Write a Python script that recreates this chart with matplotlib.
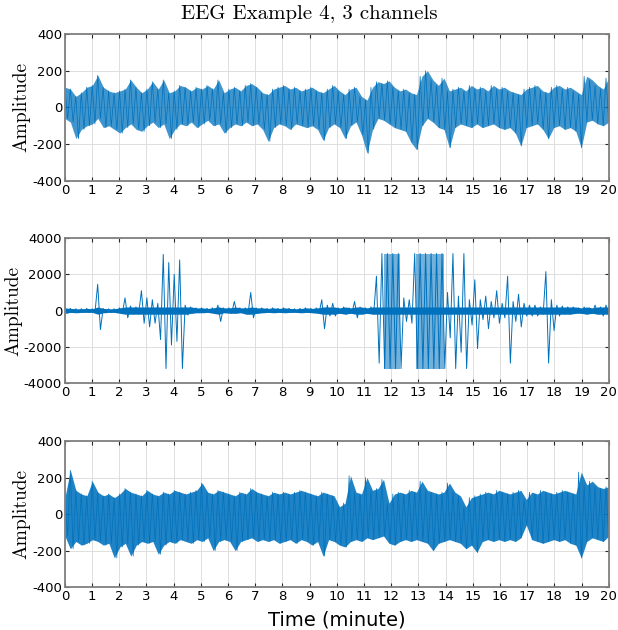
import matplotlib
matplotlib.use('Agg')
import matplotlib.pyplot as plt
import numpy as np

plt.rcParams['font.family'] = 'DejaVu Sans'
plt.rcParams['axes.unicode_minus'] = False

# Signal envelopes: max / min inside each 0.2-minute bin (100 bins)
ch1_hi = [110, 100, 60, 80, 110, 120, 175, 110, 90, 80,
          90, 100, 150, 110, 80, 100, 140, 100, 150, 80,
          90, 120, 110, 90, 110, 100, 120, 100, 150, 80,
          100, 110, 90, 120, 130, 110, 80, 70, 100, 110,
          120, 100, 110, 90, 100, 110, 90, 80, 100, 120,
          90, 70, 100, 110, 60, 40, 110, 140, 130, 145,
          110, 90, 100, 80, 70, 170, 200, 150, 120, 160,
          90, 100, 110, 90, 120, 100, 110, 90, 120, 100,
          110, 90, 80, 70, 100, 110, 120, 90, 80, 110,
          120, 100, 110, 90, 70, 170, 150, 120, 100, 160]
ch1_lo = [-60, -80, -170, -120, -100, -90, -60, -110, -100, -120,
          -140, -110, -90, -120, -130, -100, -80, -110, -90, -170,
          -120, -90, -100, -80, -110, -90, -70, -100, -90, -140,
          -110, -90, -100, -80, -100, -90, -120, -185, -110, -90,
          -100, -120, -90, -100, -110, -100, -120, -180, -110, -90,
          -110, -170, -100, -80, -150, -250, -120, -60, -70, -90,
          -110, -120, -130, -190, -230, -100, -60, -80, -110, -120,
          -220, -110, -90, -100, -110, -90, -110, -100, -90, -110,
          -120, -110, -140, -210, -110, -100, -90, -120, -170, -110,
          -100, -120, -110, -130, -220, -80, -70, -90, -100, -80]

ch2_hi = [150, 120, 100, 100, 120, 100, 1450, 120, 100, 100,
          150, 700, 250, 200, 1100, 700, 600, 400, 3100, 2650,
          2000, 2800, 300, 200, 150, 150, 120, 150, 300, 150,
          150, 500, 150, 150, 1000, 150, 150, 120, 150, 120,
          150, 120, 100, 120, 150, 120, 150, 600, 300, 400,
          150, 200, 150, 500, 200, 150, 200, 1900, 3150, 3150,
          3150, 3150, 700, 600, 3150, 3150, 3150, 3150, 3150, 3150,
          1000, 3150, 800, 3150, 600, 1700, 600, 800, 500, 1100,
          400, 1900, 500, 900, 400, 300, 300, 200, 2150, 600,
          300, 250, 200, 200, 150, 200, 150, 300, 200, 300]
ch2_lo = [-150, -100, -120, -100, -100, -100, -1050, -120, -100, -100,
          -150, -400, -200, -200, -700, -900, -700, -1600, -3200, -1900,
          -1700, -3200, -250, -150, -120, -120, -100, -150, -600, -120,
          -150, -150, -120, -200, -400, -150, -120, -100, -120, -100,
          -120, -100, -100, -120, -100, -120, -150, -1000, -300, -300,
          -150, -200, -150, -400, -200, -150, -200, -2900, -3200, -3200,
          -3200, -3200, -600, -700, -3200, -3200, -3200, -3200, -3200, -3200,
          -1500, -3200, -2300, -3200, -800, -2100, -500, -1000, -400, -700,
          -400, -2900, -600, -900, -300, -300, -300, -200, -2900, -1100,
          -300, -200, -200, -150, -150, -200, -150, -200, -300, -300]

ch3_hi = [90, 240, 130, 110, 100, 180, 120, 100, 110, 90,
          110, 140, 120, 110, 100, 130, 110, 100, 120, 110,
          130, 120, 110, 120, 130, 170, 120, 110, 130, 120,
          110, 100, 120, 110, 140, 120, 110, 100, 120, 110,
          120, 110, 120, 130, 120, 110, 100, 120, 110, 100,
          40, 60, 210, 120, 110, 200, 130, 140, 190, 60,
          110, 120, 110, 130, 120, 180, 130, 120, 110, 120,
          170, 120, 100, 40, 90, 100, 110, 120, 110, 130,
          120, 110, 120, 130, 80, 120, 110, 130, 120, 110,
          120, 130, 120, 110, 230, 160, 180, 150, 140, 150]
ch3_lo = [-120, -190, -150, -170, -160, -140, -150, -170, -160, -240,
          -180, -160, -230, -170, -150, -160, -150, -220, -170, -150,
          -160, -140, -150, -160, -140, -150, -130, -200, -150, -140,
          -150, -200, -150, -140, -130, -150, -140, -150, -140, -160,
          -150, -140, -160, -140, -150, -170, -150, -230, -140, -150,
          -170, -180, -150, -140, -150, -130, -140, -130, -120, -160,
          -170, -150, -140, -150, -140, -150, -160, -200, -160, -150,
          -140, -150, -160, -190, -170, -210, -150, -140, -150, -140,
          -150, -140, -150, -130, -60, -140, -150, -160, -150, -140,
          -150, -140, -160, -170, -240, -150, -130, -140, -150, -120]

# (hi, lo, y-limit, y ticks, band alpha, max height of the solid band)
channels = [(ch1_hi, ch1_lo, 400, [-400, -200, 0, 200, 400], 0.75, None),
            (ch2_hi, ch2_lo, 4000, [-4000, -2000, 0, 2000, 4000], 1.0, 200),
            (ch3_hi, ch3_lo, 400, [-400, -200, 0, 200, 400], 0.88, None)]

fig = plt.figure(figsize=(6.18, 6.30), dpi=100)
boxes = [(0.105, 0.713, 0.880, 0.233),
         (0.105, 0.392, 0.880, 0.230),
         (0.105, 0.068, 0.880, 0.232)]

blue = '#0072BD'
t_bin = np.linspace(0, 20, 100)
t_zig = np.linspace(0, 20, 200)   # each bin drawn as max then min

for (hi, lo, lim, yt, alpha, cap), box in zip(channels, boxes):
    ax = fig.add_axes(box)
    hi = np.array(hi)
    lo = np.array(lo)
    if cap is None:
        ax.fill_between(t_bin, lo, hi, color=blue, alpha=alpha, lw=0)
        lw = 0.5
    else:
        # quiet baseline as a solid band, clipped bursts as a lighter block
        ax.fill_between(t_bin, np.clip(lo, -cap, 0), np.clip(hi, 0, cap),
                        color=blue, lw=0)
        ax.fill_between(t_bin, lo, hi, where=hi >= 3000, color=blue,
                        alpha=0.55, lw=0)
        lw = 0.7
    ax.plot(t_zig, np.column_stack([hi, lo]).ravel(), color=blue, lw=lw)
    ax.set_xlim(0, 20)
    ax.set_ylim(-lim, lim)
    ax.set_xticks(range(0, 21))
    ax.set_yticks(yt)
    ax.grid(True, color='0.87', lw=0.7)
    ax.set_axisbelow(True)
    for s in ax.spines.values():
        s.set_color('0.5')
        s.set_linewidth(1.3)
    ax.tick_params(direction='in', top=True, right=True, length=3,
                   width=0.8, color='0.15', labelsize=9.5, pad=2)
    ax.set_ylabel('Amplitude', family='cmr10', fontsize=14, labelpad=1)

fig.text(0.5, 1 - 14 / 630, 'EEG Example 4, 3 channels', family='cmr10',
         fontsize=15, ha='center', va='center')
fig.text(0.545, 1 - 620 / 630, 'Time (minute)', fontsize=14,
         ha='center', va='center')

fig.savefig('out.png', dpi=100)
